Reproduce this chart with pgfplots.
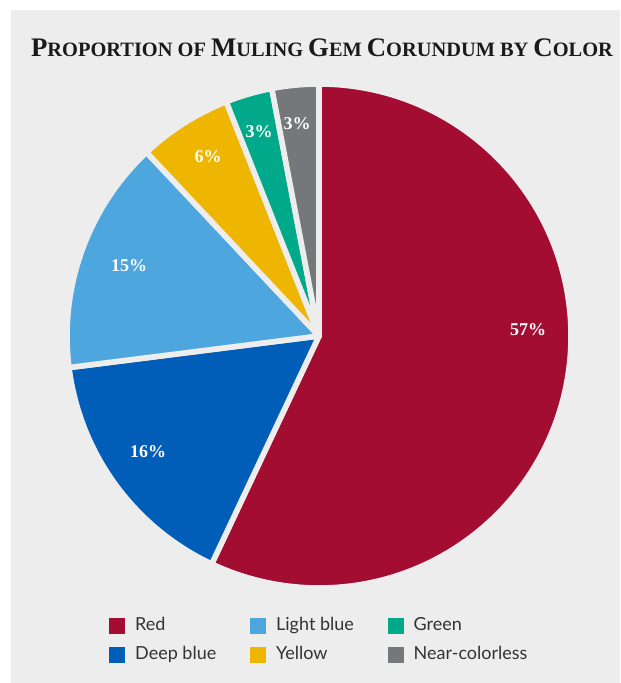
\documentclass[border=0pt]{standalone}
\usepackage{fontspec}
\setmainfont{Liberation Serif}
\newfontfamily\legfont{Lato}
\usepackage{pgfplots}
\pgfplotsset{compat=1.18}
\definecolor{bg}{HTML}{EDEDED}
\definecolor{cred}{HTML}{A30D32}
\definecolor{cdeep}{HTML}{005EB8}
\definecolor{clight}{HTML}{4EA6DF}
\definecolor{cyellow}{HTML}{EEB600}
\definecolor{cgreen}{HTML}{00A98A}
\definecolor{cgray}{HTML}{76777B}
\definecolor{ctitle}{HTML}{1A1A1A}
\definecolor{ctext}{HTML}{333333}
\newcommand{\fsc}[2]{{\fontsize{13.4}{13.4}\selectfont #1}{\fontsize{10.2}{10.2}\selectfont #2}}
\begin{document}
\begin{tikzpicture}
\begin{axis}[
  x=0.5pt, y=0.5pt, xmin=0, xmax=620, ymin=0, ymax=683,
  hide axis, clip=false, scale only axis,
  legend columns=3, legend cell align=left,
  legend style={draw=none, fill=none, at={(axis cs:103,74)}, anchor=north west,
    font=\legfont\fontsize{9}{9}\selectfont\color{ctext},
    row sep=2.5pt,
    /tikz/every odd column/.append style={column sep=3pt},
    /tikz/every even column/.append style={column sep=15pt}},
  legend image code/.code={\fill[#1] (0pt,-3.75pt) rectangle (7.5pt,3.75pt);},
]
\fill[white] (axis cs:0,0) rectangle (axis cs:620,683);
\fill[bg] (axis cs:11,0) rectangle (axis cs:620,673);
\addlegendimage{cred}\addlegendentry{Red}
\addlegendimage{clight}\addlegendentry{Light blue}
\addlegendimage{cgreen}\addlegendentry{Green}
\addlegendimage{cdeep}\addlegendentry{Deep blue}
\addlegendimage{cyellow}\addlegendentry{Yellow}
\addlegendimage{cgray}\addlegendentry{Near-colorless}
\foreach \v/\c [remember=\e as \s (initially 90)] in {57/cred,16/cdeep,15/clight,6/cyellow,3/cgreen,3/cgray}{
  \pgfmathsetmacro\e{\s-3.6*\v}
  \edef\temp{\noexpand\fill[\c, draw=bg, line width=2.8pt, line join=round] (axis cs:319,347) -- ++(\s:126pt) arc[start angle=\s, end angle=\e, radius=126pt] -- cycle;}
  \temp
}
\node[ctitle, font=\bfseries] at (axis cs:322,635) {\fsc{P}{ROPORTION OF} \fsc{M}{ULING} \fsc{G}{EM} \fsc{C}{ORUNDUM BY} \fsc{C}{OLOR}};
\begin{scope}[every node/.style={white, font=\bfseries\fontsize{9}{9}\selectfont}]
\node at (axis cs:528,353) {57\%};
\node at (axis cs:148,231) {16\%};
\node at (axis cs:129,417) {15\%};
\node at (axis cs:208,526) {6\%};
\node at (axis cs:259,551) {3\%};
\node at (axis cs:297,559) {3\%};
\end{scope}
\end{axis}
\end{tikzpicture}
\end{document}
